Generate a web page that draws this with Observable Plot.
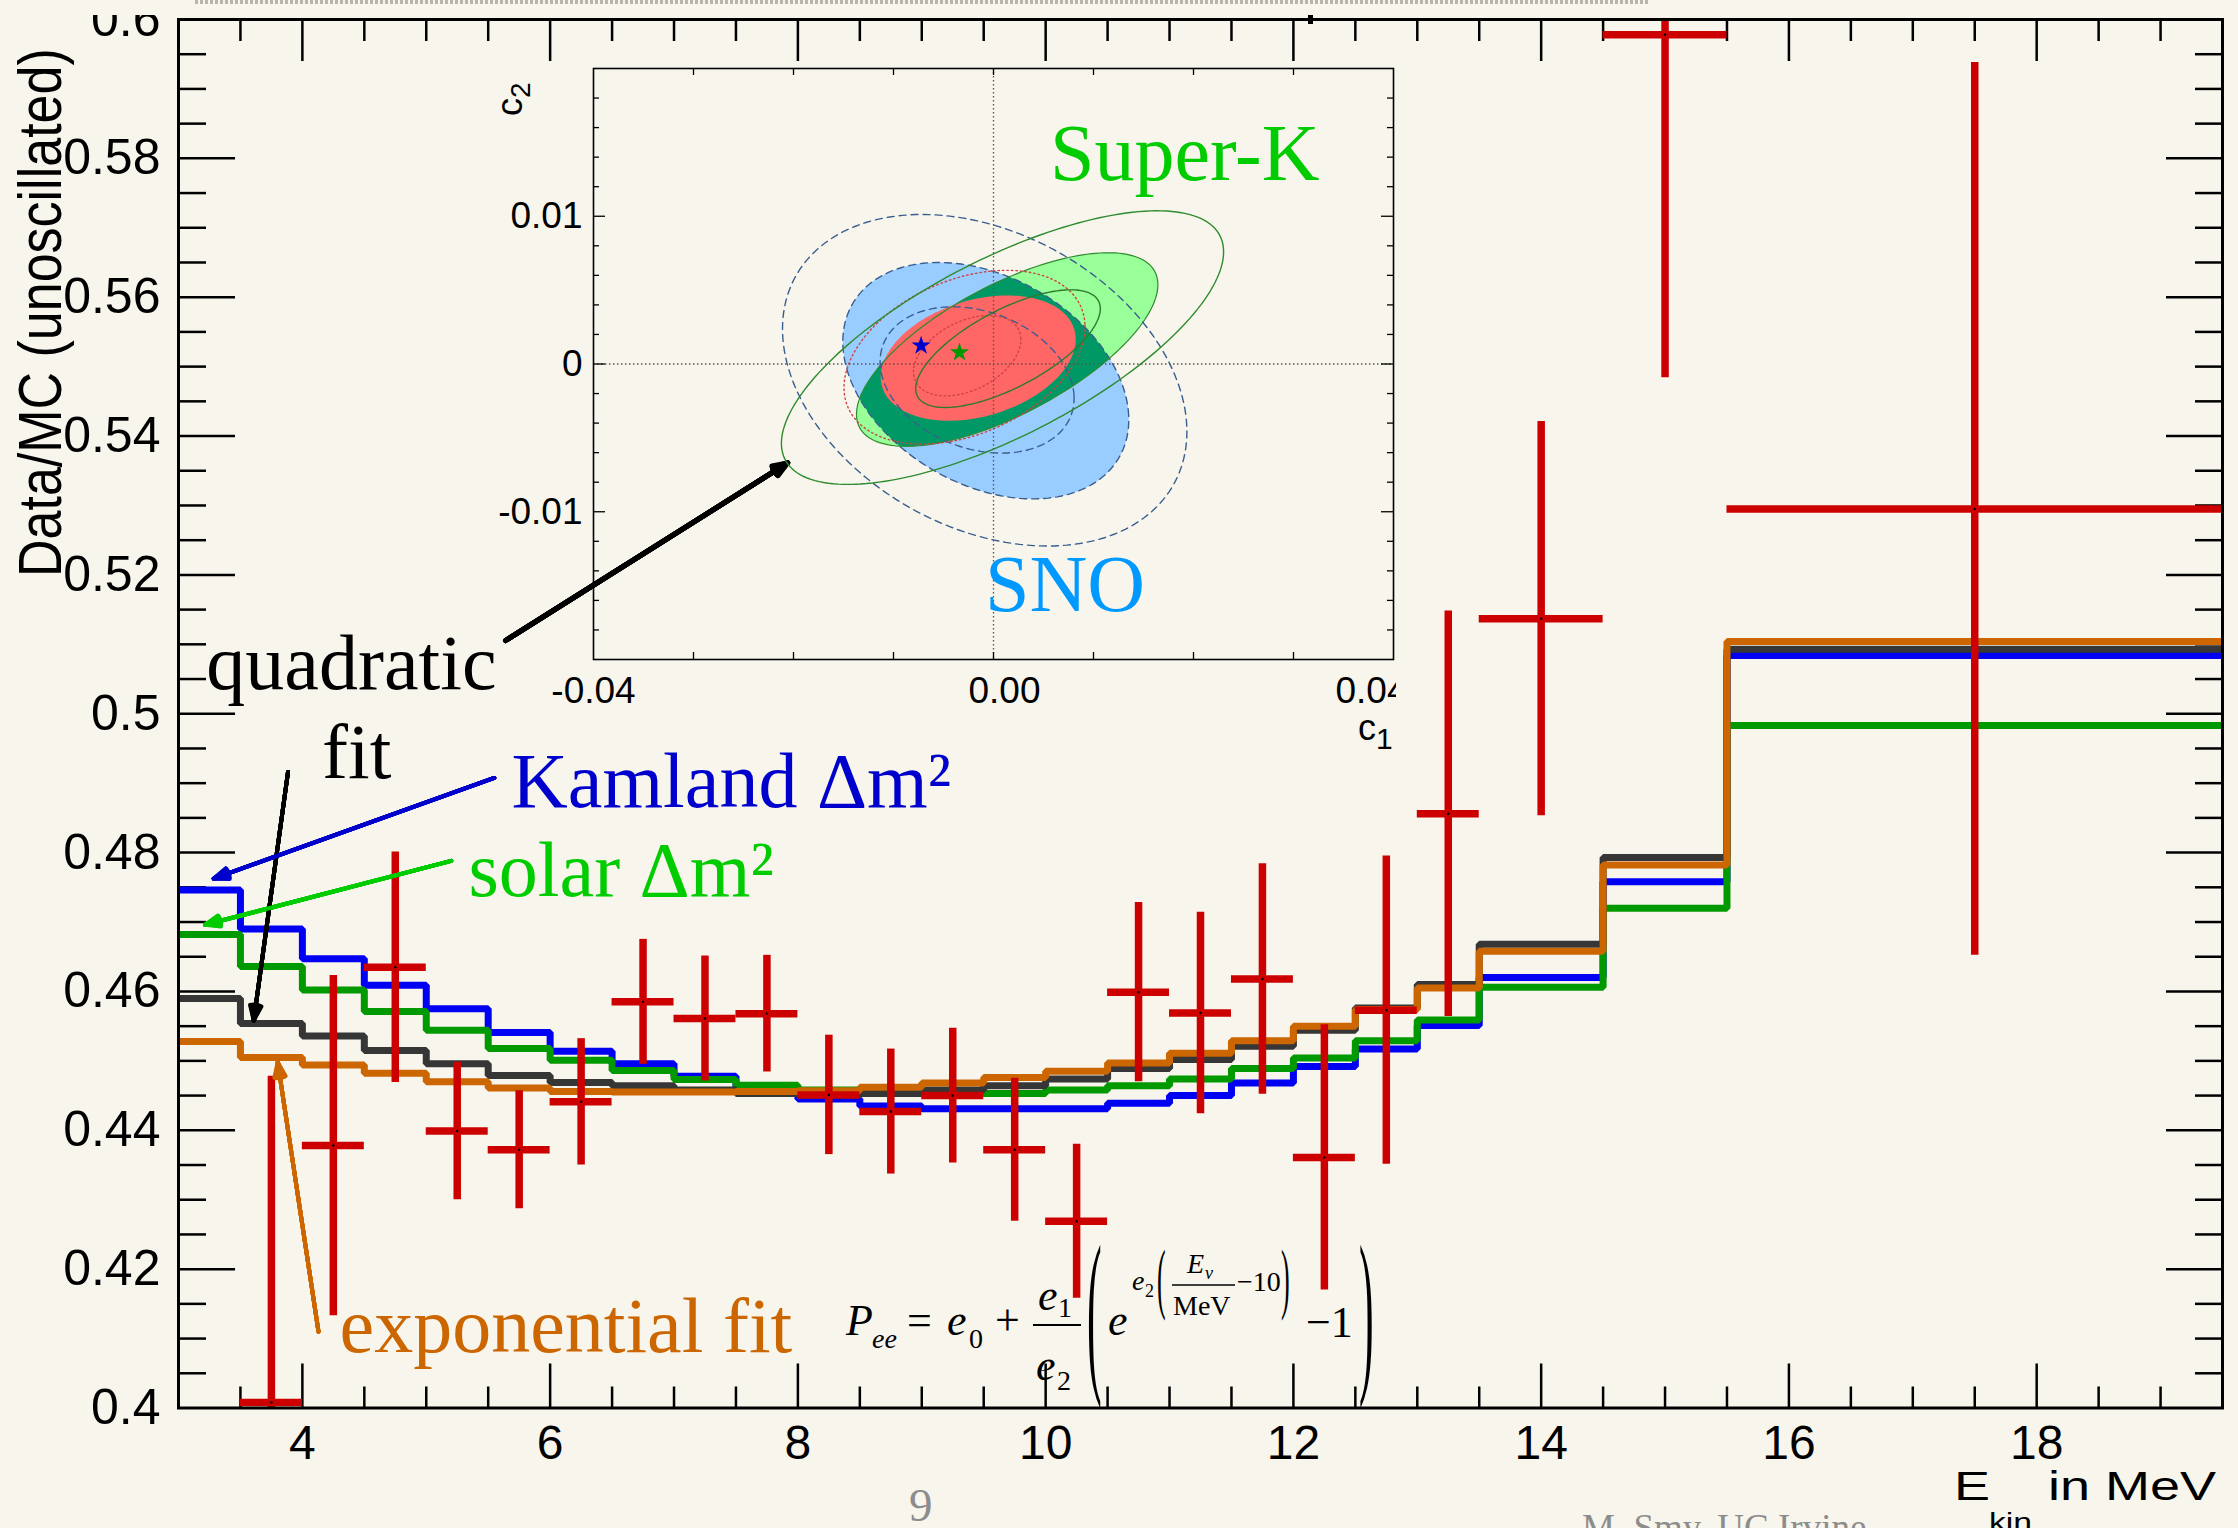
<!DOCTYPE html>
<html>
<head>
<meta charset="utf-8">
<script src="https://cdn.jsdelivr.net/npm/d3@7"></script>
<script src="https://cdn.jsdelivr.net/npm/@observablehq/plot@0.6"></script>
<style>
html, body { margin: 0; padding: 0; background: #f8f5ed; }
#page { position: relative; width: 2238px; height: 1528px; overflow: hidden; background: #f8f5ed; }
#main { position: absolute; left: 0; top: 15px; }
#inset { position: absolute; left: 480px; top: 8px; }
#overlay { position: absolute; left: 0; top: 0; }
</style>
</head>
<body>
<div id="page">
  <div id="main"></div>
  <div id="inset"></div>
  <svg id="overlay" width="2238" height="1528"></svg>
</div>
<script>
// ---------------- DATA ----------------
// bin edges of the predicted spectra (MeV)
const binEdges = [3.0,3.5,4.0,4.5,5.0,5.5,6.0,6.5,7.0,7.5,8.0,8.5,9.0,9.5,10.0,10.5,11.0,11.5,12.0,12.5,13.0,13.5,14.5,15.5,19.5];
// predicted Data/MC per bin
const kamland     = [0.4746,0.4690,0.4647,0.4609,0.4575,0.4541,0.4514,0.4496,0.4478,0.4462,0.4445,0.4435,0.4431,0.4431,0.4431,0.4439,0.4450,0.4468,0.4492,0.4517,0.4551,0.4620,0.4758,0.5084];
const solar       = [0.4682,0.4636,0.4602,0.4571,0.4544,0.4518,0.4501,0.4486,0.4473,0.4465,0.4458,0.4453,0.4453,0.4453,0.4458,0.4464,0.4474,0.4489,0.4504,0.4529,0.4559,0.4606,0.4720,0.4983];
const quadratic   = [0.4590,0.4554,0.4536,0.4515,0.4496,0.4479,0.4469,0.4464,0.4458,0.4453,0.4451,0.4453,0.4458,0.4464,0.4474,0.4489,0.4502,0.4521,0.4544,0.4576,0.4610,0.4668,0.4793,0.5093];
const exponential = [0.4528,0.4505,0.4494,0.4482,0.4470,0.4461,0.4456,0.4455,0.4455,0.4456,0.4457,0.4462,0.4468,0.4476,0.4485,0.4497,0.4511,0.4529,0.4550,0.4574,0.4605,0.4658,0.4782,0.5104];

// measured data points
const dataLo  = [3.5,4.0,4.5,5.0,5.5,6.0,6.5,7.0,7.5,8.0,8.5,9.0,9.5,10.0,10.5,11.0,11.5,12.0,12.5,13.0,13.5,14.5,15.5];
const dataHi  = [4.0,4.5,5.0,5.5,6.0,6.5,7.0,7.5,8.0,8.5,9.0,9.5,10.0,10.5,11.0,11.5,12.0,12.5,13.0,13.5,14.5,15.5,19.5];
const dataVal = [0.4008,0.4378,0.4635,0.4399,0.4372,0.4441,0.4585,0.4561,0.4568,0.4451,0.4427,0.4450,0.4372,0.4269,0.4599,0.4569,0.4618,0.4361,0.4573,0.4856,0.5137,0.5978,0.5295];
const dataErr = [0.0470,0.0245,0.0166,0.0099,0.0085,0.0091,0.0090,0.0090,0.0084,0.0086,0.0090,0.0097,0.0103,0.0111,0.0129,0.0145,0.0166,0.0191,0.0222,0.0292,0.0284,0.0494,0.0643];

// axis ticks / labels
const xTickVals   = [4,6,8,10,12,14,16,18];
const xTickLabels = ["4","6","8","10","12","14","16","18"];
const yTickVals   = [0.40,0.42,0.44,0.46,0.48,0.50,0.52,0.54,0.56,0.58,0.60];
const yTickLabels = ["0.4","0.42","0.44","0.46","0.48","0.5","0.52","0.54","0.56","0.58","0.6"];

// annotations (in data coordinates of the main chart)
const noteText  = ["quadratic","fit","Kamland Δm²","solar Δm²","exponential fit"];
const noteX     = [3.225,4.159,5.688,5.341,4.30];
const noteY     = [0.5035,0.49075,0.4865,0.47368,0.40807];
const noteColor = ["#000000","#000000","#0000cc","#00cc00","#cc6600"];
const arrowX1 = [5.640,3.884,5.549,5.202,4.130];
const arrowY1 = [0.51055,0.4916,0.49075,0.47881,0.4110];
const arrowX2 = [7.917,3.607,3.284,3.214,3.801];
const arrowY2 = [0.53613,0.4558,0.47625,0.4696,0.44981];
const arrowColor = ["#000000","#000000","#0000cc","#00cc00","#cc6600"];
const arrowWidth = [5,4,4,4,4];

// inset: confidence contours (c1, c2) as ellipses: centre, half-extents, correlation
const ellName = ["snoFill","skFill","combFill","snoOuter","snoInner","skOuter","skInner","combOuter","combInner"];
const ellCx   = [-0.00077, 0.00137,-0.00153,-0.00088,-0.00164, 0.00090, 0.00145,-0.00290,-0.00263];
const ellCy   = [-0.00113, 0.00098, 0.00040,-0.00110,-0.00108, 0.00111, 0.00104, 0.00046, 0.00056];
const ellRx   = [ 0.01430, 0.01507, 0.00975, 0.02022, 0.00970, 0.02211, 0.00923, 0.01205, 0.00537];
const ellRy   = [ 0.00800, 0.00655, 0.00424, 0.01122, 0.00495, 0.00926, 0.00398, 0.00588, 0.00272];
const ellRho  = [-0.33,    0.67,    0.30,   -0.31,   -0.25,    0.70,    0.68,    0.35,    0.40];
const starC1  = [-0.00724,-0.00340];
const starC2  = [ 0.00124, 0.00078];
const starColor = ["#0000cc","#009900"];
const insetXTickVals = [-0.04,0,0.04];
const insetXTickLabels = ["-0.04","0.00","0.04"];
const insetYTickVals = [-0.01,0,0.01];
const insetYTickLabels = ["-0.01","0","0.01"];

// ---------------- BUILD ----------------
const SANS = "Liberation Sans, Arial, Helvetica, sans-serif";
const SERIF = "Liberation Serif, Times New Roman, serif";

const W = 2238, H = 1513;
const mL = 178, mR = 16, mT = 4, mB = 120.5;
const fW = W - mL - mR, fH = H - mT - mB;

function stepPoints(vals) {
  const pts = vals.map((v, i) => ({x: binEdges[i], y: v}));
  pts.push({x: binEdges[binEdges.length - 1], y: vals[vals.length - 1]});
  return pts;
}
const seriesDefs = [
  {vals: kamland, color: "#0000f2"},
  {vals: solar, color: "#009900"},
  {vals: quadratic, color: "#363636"},
  {vals: exponential, color: "#cc6600"}
];
const points = dataVal.map((v, i) => ({lo: dataLo[i], hi: dataHi[i], x: (dataLo[i] + dataHi[i]) / 2, v, e: dataErr[i]}));

const xMinor = d3.range(7, 39).map(k => k / 2).filter(v => v % 2 !== 0);
const xMajor = xTickVals;
const yMajor = d3.range(81, 120).filter(k => k % 4 === 0).map(k => k * 0.005);
const yMinor = d3.range(81, 120).filter(k => k % 4 !== 0).map(k => k * 0.005);

const notes = noteText.map((t, i) => ({t, x: noteX[i], y: noteY[i], c: noteColor[i]}));
const arrows = arrowX1.map((d, i) => ({x1: arrowX1[i], y1: arrowY1[i], x2: arrowX2[i], y2: arrowY2[i], c: arrowColor[i], w: arrowWidth[i]}));
// several head angles overlaid give a solid arrow head
const headAngles = [2, 10, 18, 26, 34, 42];

const tickStyle = {stroke: "black", strokeWidth: 2.5};

const mainPlot = Plot.plot({
  width: W, height: H,
  marginLeft: mL, marginRight: mR, marginTop: mT, marginBottom: mB,
  x: {domain: [3, 19.5], axis: null},
  y: {domain: [0.4, 0.6], axis: null},
  color: {type: "identity"},
  style: {background: "transparent", fontFamily: SANS, color: "black", overflow: "hidden"},
  marks: [
    Plot.ruleX(xMajor, {x: d => d, insetTop: fH - 44, ...tickStyle}),
    Plot.ruleX(xMinor, {x: d => d, insetTop: fH - 21, ...tickStyle}),
    Plot.ruleX(xMajor, {x: d => d, insetBottom: fH - 42, ...tickStyle}),
    Plot.ruleX(xMinor, {x: d => d, insetBottom: fH - 22, ...tickStyle}),
    Plot.ruleY(yMajor, {y: d => d, insetRight: fW - 57, ...tickStyle}),
    Plot.ruleY(yMinor, {y: d => d, insetRight: fW - 28, ...tickStyle}),
    Plot.ruleY(yMajor, {y: d => d, insetLeft: fW - 56, ...tickStyle}),
    Plot.ruleY(yMinor, {y: d => d, insetLeft: fW - 27, ...tickStyle}),
    ...seriesDefs.map(s => Plot.line(stepPoints(s.vals), {
      x: "x", y: "y", curve: "step-after", stroke: s.color, strokeWidth: 7,
      strokeLinejoin: "miter", strokeLinecap: "butt", clip: true
    })),
    Plot.ruleX(points, {x: "x", y1: d => d.v - d.e, y2: d => d.v + d.e, stroke: "#cc0000", strokeWidth: 7.5, clip: true}),
    Plot.ruleY(points, {y: "v", x1: "lo", x2: "hi", stroke: "#cc0000", strokeWidth: 7.5, clip: true}),
    Plot.dot(points, {x: "x", y: "v", r: 1.2, fill: "black", clip: true}),
    Plot.frame({stroke: "black", strokeWidth: 3}),
    Plot.text(xTickVals, {x: d => d, frameAnchor: "bottom", dy: 17, lineAnchor: "top", fontSize: 48,
      text: (d, i) => xTickLabels[i], fill: "black"}),
    Plot.text(yTickVals, {y: d => d, frameAnchor: "left", dx: -18, textAnchor: "end", fontSize: 50,
      text: (d, i) => yTickLabels[i], fill: "black"}),
    Plot.text(notes, {x: "x", y: "y", text: "t", fill: "c", fontSize: 78, fontFamily: SERIF,
      textAnchor: "start", lineAnchor: "bottom"}),
    ...headAngles.map(a => Plot.arrow(arrows, {x1: "x1", y1: "y1", x2: "x2", y2: "y2", stroke: "c", strokeWidth: "w",
      headLength: 24, headAngle: a, strokeLinejoin: "miter"}))
  ]
});
document.getElementById("main").appendChild(mainPlot);

// ---------------- INSET ----------------
function ellipsePoints(cx, cy, rx, ry, rho, n = 180) {
  const dl = Math.acos(Math.max(-1, Math.min(1, rho)));
  const pts = [];
  for (let k = 0; k < n; k++) {
    const t = (2 * Math.PI * k) / n;
    pts.push([cx + rx * Math.cos(t), cy + ry * Math.cos(t + dl)]);
  }
  let a = 0;
  for (let k = 0; k < n; k++) { const p = pts[k], q = pts[(k + 1) % n]; a += p[0] * q[1] - q[0] * p[1]; }
  if (a < 0) pts.reverse();
  return pts;
}
function clipConvex(subject, clipper) {
  let out = subject;
  const cross = (a, b, p) => (b[0] - a[0]) * (p[1] - a[1]) - (b[1] - a[1]) * (p[0] - a[0]);
  for (let i = 0; i < clipper.length; i++) {
    const A = clipper[i], B = clipper[(i + 1) % clipper.length];
    const inp = out; out = [];
    for (let j = 0; j < inp.length; j++) {
      const P = inp[j], Q = inp[(j + 1) % inp.length];
      const dp = cross(A, B, P), dq = cross(A, B, Q);
      const pin = dp >= 0, qin = dq >= 0;
      if (pin) out.push(P);
      if (pin !== qin) {
        const t = dp / (dp - dq);
        out.push([P[0] + t * (Q[0] - P[0]), P[1] + t * (Q[1] - P[1])]);
      }
    }
    if (!out.length) break;
  }
  return out;
}
const ell = {};
ellName.forEach((n, i) => { ell[n] = ellipsePoints(ellCx[i], ellCy[i], ellRx[i], ellRy[i], ellRho[i]); });
const overlap = clipConvex(ell.skFill, ell.snoFill);
const toObj = pts => pts.map(p => ({x: p[0], y: p[1]}));

const iW = 916, iH = 752, iL = 113, iR = 3, iT = 60, iB = 101;
const ifW = iW - iL - iR, ifH = iH - iT - iB;
const ixTicks = d3.range(-3, 4).map(k => k * 0.01);
const iyMinor = d3.range(-9, 10).filter(k => k % 5 !== 0).map(k => k * 0.002);
const iyMajor = [-0.01, 0, 0.01];
const insetXLabelShift = [0, 11, -22];
const itick = {stroke: "black", strokeWidth: 1.3};
const fillPoly = (pts, fill, extra = {}) => Plot.line(toObj(pts), {x: "x", y: "y", curve: "linear-closed", fill, stroke: "none", ...extra});
const linePoly = (pts, stroke, extra = {}) => Plot.line(toObj(pts), {x: "x", y: "y", curve: "linear-closed", fill: "none", stroke, strokeWidth: 1.4, ...extra});
const stars = starC1.map((c, i) => ({x: c, y: starC2[i], c: starColor[i]}));

const insetPlot = Plot.plot({
  width: iW, height: iH,
  marginLeft: iL, marginRight: iR, marginTop: iT, marginBottom: iB,
  x: {domain: [-0.04, 0.04], axis: null},
  y: {domain: [-0.02, 0.02], axis: null},
  color: {type: "identity"},
  style: {background: "transparent", fontFamily: SANS, color: "black", overflow: "hidden"},
  marks: [
    fillPoly(ell.snoFill, "#99ccff"),
    fillPoly(ell.skFill, "#99ff99"),
    fillPoly(overlap, "#009966"),
    fillPoly(ell.combFill, "#ff6666"),
    linePoly(ell.snoFill, "#3a5f8f", {strokeDasharray: "7,5"}),
    linePoly(ell.skFill, "#2e8b2e", {strokeWidth: 1.2}),
    linePoly(ell.snoOuter, "#3a5f8f", {strokeDasharray: "7,5"}),
    linePoly(ell.snoInner, "#3a5f8f", {strokeDasharray: "7,5"}),
    linePoly(ell.combOuter, "#cc4444", {strokeDasharray: "1.5,3"}),
    linePoly(ell.combInner, "#cc4444", {strokeDasharray: "1.5,3"}),
    linePoly(ell.skOuter, "#2e8b2e"),
    linePoly(ell.skInner, "#2e7a2e"),
    Plot.ruleX([0], {x: d => d, stroke: "#555", strokeWidth: 1.3, strokeDasharray: "1.5,2.5"}),
    Plot.ruleY([0], {y: d => d, stroke: "#555", strokeWidth: 1.3, strokeDasharray: "1.5,2.5"}),
    Plot.dot(stars, {x: "x", y: "y", symbol: "star", r: 6, fill: "c", stroke: "none"}),
    Plot.ruleX(ixTicks, {x: d => d, insetTop: ifH - 7, ...itick}),
    Plot.ruleX(ixTicks, {x: d => d, insetBottom: ifH - 7, ...itick}),
    Plot.ruleY(iyMinor, {y: d => d, insetRight: ifW - 6, ...itick}),
    Plot.ruleY(iyMajor, {y: d => d, insetRight: ifW - 12, ...itick}),
    Plot.ruleY(iyMinor, {y: d => d, insetLeft: ifW - 6, ...itick}),
    Plot.ruleY(iyMajor, {y: d => d, insetLeft: ifW - 12, ...itick}),
    Plot.frame({stroke: "black", strokeWidth: 1.6}),
    ...insetXTickVals.map((v, i) => Plot.text([v], {x: d => d, frameAnchor: "bottom", dy: 17, dx: insetXLabelShift[i],
      lineAnchor: "top", fontSize: 37, text: () => insetXTickLabels[i], fill: "black"})),
    Plot.text(insetYTickVals, {y: d => d, frameAnchor: "left", dx: -11, textAnchor: "end", fontSize: 37,
      text: (d, i) => insetYTickLabels[i], fill: "black"})
  ]
});
document.getElementById("inset").appendChild(insetPlot);

// ---------------- OVERLAY TEXT ----------------
const ov = d3.select("#overlay");
function addText(s, x, y, o = {}) {
  const t = ov.append("text").text(s)
    .attr("font-family", o.family || SERIF)
    .attr("font-size", o.size || 44)
    .attr("fill", o.fill || "black");
  if (o.italic) t.attr("font-style", "italic");
  if (o.anchor) t.attr("text-anchor", o.anchor);
  if (o.transform) t.attr("transform", `translate(${x},${y}) ${o.transform}`);
  else t.attr("x", x).attr("y", y);
  return t;
}

// top dotted strip and small mark of the slide
ov.append("line").attr("x1", 195).attr("x2", 1648).attr("y1", 2).attr("y2", 2)
  .attr("stroke", "#b9b5ad").attr("stroke-width", 4).attr("stroke-dasharray", "3,2");
ov.append("rect").attr("x", 1308).attr("y", 15).attr("width", 5).attr("height", 9).attr("fill", "black");

// axis titles
addText("Data/MC (unoscillated)", 61, 577, {family: SANS, size: 52, transform: "rotate(-90) scale(1,1.16)"});
addText("E", 1954, 1500, {family: SANS, size: 40, transform: "scale(1.35,1)"});
addText("kin", 1989, 1531, {family: SANS, size: 25, transform: "scale(1.35,1)"});
addText("in MeV", 2048, 1500, {family: SANS, size: 40, transform: "scale(1.35,1)"});

// inset labels
addText("Super-K", 1050, 180, {size: 80, fill: "#00cc00"});
addText("SNO", 985, 611, {size: 80, fill: "#0099ff"});
const c2 = addText("c", 522, 116, {family: SANS, size: 36, transform: "rotate(-90)"});
c2.append("tspan").attr("font-size", 28).attr("dy", 8).text("2");
const c1 = addText("c", 1358, 740, {family: SANS, size: 36});
c1.append("tspan").attr("font-size", 30).attr("dy", 9).text("1");

// formula
const formulaParts = [
  ["P", 846, 1335, 44, true], ["ee", 872, 1348, 28, true], ["=", 907, 1335, 44, false],
  ["e", 947, 1335, 44, true], ["0", 969, 1348, 28, false], ["+", 995, 1335, 44, false],
  ["e", 1038, 1310, 44, true], ["1", 1058, 1317, 28, false],
  ["e", 1036, 1380, 44, true], ["2", 1057, 1390, 28, false],
  ["e", 1108, 1335, 44, true], ["e", 1132, 1290, 28, true], ["2", 1145, 1297, 18, false],
  ["E", 1187, 1273, 28, true], ["ν", 1205, 1279, 18, true], ["MeV", 1173, 1315, 28, false],
  ["−10", 1237, 1291, 28, false], ["−1", 1306, 1337, 44, false]
];
formulaParts.forEach(([s, x, y, size, it]) => addText(s, x, y, {size, italic: it}));
addText("(", 1087, 1370, {size: 44, transform: "scale(1,4.1)"});
addText(")", 1359, 1370, {size: 44, transform: "scale(1,4.1)"});
addText("(", 1157, 1304, {size: 26, transform: "scale(1,3)"});
addText(")", 1281, 1304, {size: 26, transform: "scale(1,3)"});
ov.append("line").attr("x1", 1033).attr("x2", 1081).attr("y1", 1325).attr("y2", 1325).attr("stroke", "black").attr("stroke-width", 2.2);
ov.append("line").attr("x1", 1172).attr("x2", 1235).attr("y1", 1285).attr("y2", 1285).attr("stroke", "black").attr("stroke-width", 1.5);

// slide footer
addText("9", 909, 1521, {size: 47, fill: "#8c8c8c"});
addText("M. Smy, UC Irvine", 1582, 1540, {size: 37, fill: "#8c8c8c"});
</script>
</body>
</html>
